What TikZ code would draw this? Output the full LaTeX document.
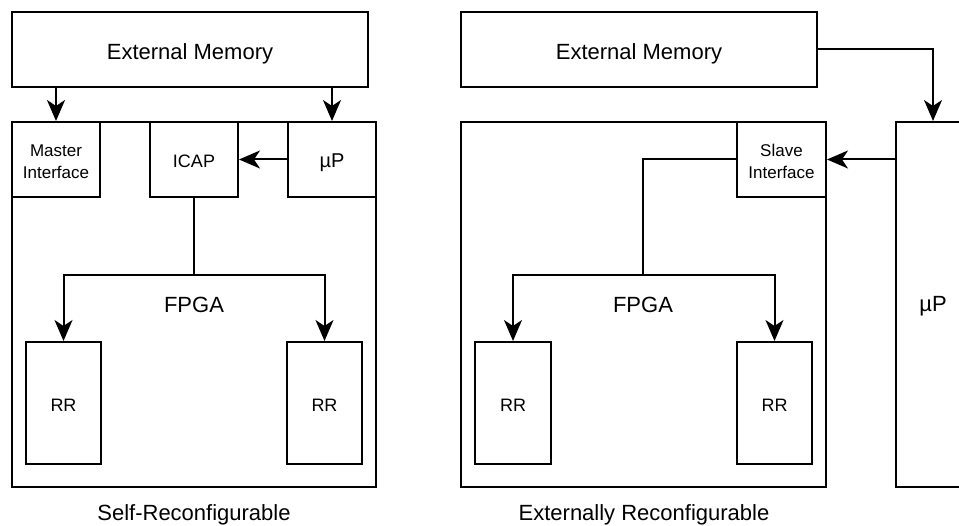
\documentclass[tikz,border=0pt]{standalone}
\usepackage{fontspec}
\setmainfont{Liberation Sans}
\usetikzlibrary{arrows.meta}

\tikzset{
  box/.style={draw=black, line width=2pt, fill=white, inner sep=0pt, align=center,
    font=\fontsize{18}{22}\selectfont, text height=17pt, text depth=0pt},
  twoline/.style={draw=black, line width=2pt, fill=white, inner sep=0pt, align=center,
    font=\fontsize{17}{22}\selectfont},
  bigbox/.style={box, font=\fontsize{22}{26}\selectfont, text height=21pt},
  lbl/.style={inner sep=0pt, anchor=base, font=\fontsize{22}{26}\selectfont},
  wire/.style={draw=black, line width=2pt},
  arr/.style={wire, -{Stealth[length=21pt, width=18pt, inset=6pt]}},
}
\newcommand{\firstline}{\rule{0pt}{17pt}}

\begin{document}
\begin{tikzpicture}[x=1pt, y=-1pt]
  \useasboundingbox (0,0) rectangle (959,526);
  \fill[white] (0,0) rectangle (959,526);
  \clip (0,0) rectangle (959,526);

  % ---------- self-reconfigurable system ----------
  \node[box, minimum width=364pt, minimum height=365pt] (fpgaL) at (194,304.5) {};
  \node[bigbox, minimum width=356pt, minimum height=75pt] (extL) at (190,49.5) {External Memory};
  \node[twoline, minimum width=88pt, minimum height=75pt] (master) at (56,159.5) {\firstline Master\\Interface};
  \node[box, minimum width=88pt, minimum height=75pt] (icap) at (194,159.5) {ICAP};
  \node[box, minimum width=88pt, minimum height=75pt, font=\fontsize{20}{22}\selectfont] (upL) at (332,159.5) {µP};
  \node[box, minimum width=75pt, minimum height=122pt] (rrL1) at (63.5,403) {RR};
  \node[box, minimum width=75pt, minimum height=122pt] (rrL2) at (324.5,403) {RR};
  \node[lbl] (fpgaLlbl) at (194,313) {FPGA};
  \node[lbl] (capL) at (194,521) {Self-Reconfigurable};
  \coordinate (busL) at (194,275);

  \draw[arr] (master |- extL.south) -- (master.north);
  \draw[arr] (upL |- extL.south) -- (upL.north);
  \draw[arr] (upL.west) -- (icap.east);
  \draw[wire] (icap.south) -- (busL);
  \draw[arr] (busL) -| (rrL1.north);
  \draw[arr] (busL) -| (rrL2.north);

  % ---------- externally reconfigurable system ----------
  \node[box, minimum width=365pt, minimum height=365pt] (fpgaR) at (643.5,304.5) {};
  \node[bigbox, minimum width=356pt, minimum height=75pt] (extR) at (639,49.5) {External Memory};
  \node[twoline, minimum width=89pt, minimum height=75pt] (slave) at (781.5,159.5) {\firstline Slave\\Interface};
  \node[bigbox, text height=15pt, minimum width=74pt, minimum height=365pt] (upR) at (933,304.5) {µP};
  \node[box, minimum width=76pt, minimum height=122pt] (rrR1) at (513,403) {RR};
  \node[box, minimum width=75pt, minimum height=122pt] (rrR2) at (774.5,403) {RR};
  \node[lbl] (fpgaRlbl) at (643,313) {FPGA};
  \node[lbl] (capR) at (644,521) {Externally Reconfigurable};
  \coordinate (busR) at (643,275);

  \draw[arr] (extR.east) -| (upR.north);
  \draw[arr] (upR.west |- slave.east) -- (slave.east);
  \draw[wire] (slave.west) -| (busR);
  \draw[arr] (busR) -| (rrR1.north);
  \draw[arr] (busR) -| (rrR2.north);
\end{tikzpicture}
\end{document}
